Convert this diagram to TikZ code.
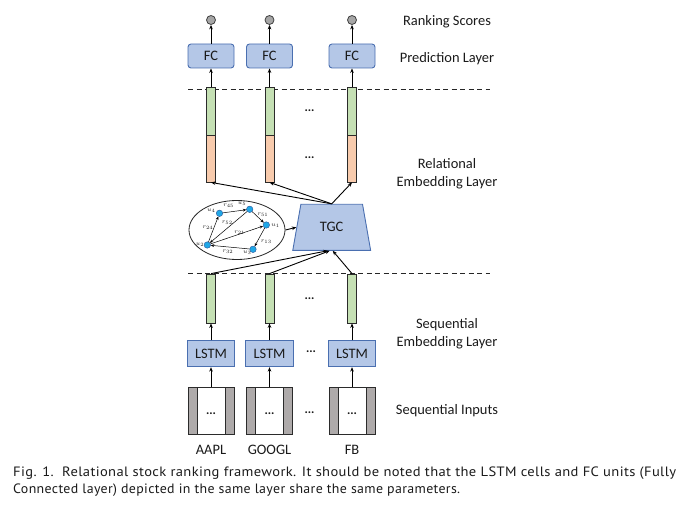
\documentclass[tikz,border=0pt]{standalone}
\usepackage{fontspec}
\usepackage{graphicx}
\setmainfont{Carlito}
\newfontfamily\capfont[LetterSpace=2.5]{PT Sans}
\usetikzlibrary{shapes.geometric,arrows.meta,calc}
\definecolor{fcfill}{HTML}{B4C7E7}
\definecolor{boxedge}{HTML}{4A6FB0}
\definecolor{scorefill}{HTML}{A6A6A6}
\definecolor{scoreedge}{HTML}{404040}
\definecolor{barg}{HTML}{C5E0B4}
\definecolor{baro}{HTML}{F8CBAD}
\definecolor{baredge}{HTML}{2B2B2B}
\definecolor{sidegray}{HTML}{AEAAAA}
\definecolor{gnodefill}{HTML}{1FA7E6}
\definecolor{gnodeedge}{HTML}{2F5597}
\definecolor{txt}{HTML}{1A1A1A}
\begin{document}
\begin{tikzpicture}[x=1bp,y=-1bp, font=\fontsize{14.5}{18.4}\selectfont, text=txt,
 arr/.style={-{Stealth[length=4.5bp,width=3.6bp]}, line width=0.9bp, draw=black},
 garr/.style={-{Stealth[length=3.4bp,width=2.8bp]}, line width=0.5bp, draw=black},
 fcbox/.style={draw=boxedge, fill=fcfill, rounded corners=3bp, minimum width=46bp, minimum height=24bp, inner sep=0, line width=0.9bp},
 lstmbox/.style={draw=boxedge, fill=fcfill, minimum width=47.5bp, minimum height=26bp, inner sep=0, line width=0.9bp},
 score/.style={circle, draw=scoreedge, fill=scorefill, minimum size=9bp, inner sep=0, line width=0.8bp},
 gbar/.style={draw=baredge, fill=barg, minimum width=9bp, inner sep=0, line width=0.8bp},
 obar/.style={draw=baredge, fill=baro, minimum width=9bp, inner sep=0, line width=0.8bp},
 inbox/.style={draw=baredge, fill=white, line width=0.9bp, minimum width=46bp, minimum height=47bp, inner sep=0,
   path picture={
     \fill[sidegray] (path picture bounding box.north west) rectangle ([xshift=9bp]path picture bounding box.south west);
     \fill[sidegray] (path picture bounding box.north east) rectangle ([xshift=-9bp]path picture bounding box.south east);
     \draw[baredge, line width=0.9bp] ([xshift=9bp]path picture bounding box.north west) -- ([xshift=9bp]path picture bounding box.south west);
     \draw[baredge, line width=0.9bp] ([xshift=-9bp]path picture bounding box.north east) -- ([xshift=-9bp]path picture bounding box.south east);
   }},
 gnode/.style={circle, draw=gnodeedge, fill=gnodefill, minimum size=6.5bp, inner sep=0, line width=0.4bp},
 elab/.style={font=\fontsize{6.5}{7}\selectfont, inner sep=0},
 dotsty/.style={font=\fontsize{12.5}{14}\selectfont\bfseries, inner sep=0},
 dashline/.style={dash pattern=on 5bp off 3.5bp, line width=0.9bp, draw=black!85},
 capsty/.style={anchor=base west, inner sep=0, font=\capfont\fontsize{13.6}{15}\selectfont}
]
\path[use as bounding box] (0,0) rectangle (684,507);

% dashed separators
\draw[dashline] (188,89) -- (490,89);
\draw[dashline] (188,273) -- (490,273);

% columns
\foreach \i/\x in {1/211,2/269.5,3/352}{
  \node[score] (sc\i) at (\x,20) {};
  \node[fcbox] (fc\i) at (\x,56) {FC};
  \node[gbar, minimum height=48bp] (tg\i) at (\x,111) {};
  \node[obar, minimum height=47bp] (to\i) at (\x,158.5) {};
  \node[gbar, minimum height=49bp] (bg\i) at (\x,298.5) {};
  \node[lstmbox] (ls\i) at (\x,353.7) {LSTM};
  \node[inbox] (in\i) at (\x,410.5) {};
  \node[dotsty] (din\i) at (\x,414) {...};
  \draw[arr] (fc\i.north) -- (sc\i.south);
  \draw[arr] (tg\i.north) -- (fc\i.south);
  \draw[arr] (ls\i.north) -- (bg\i.south);
  \draw[arr] (in\i.north) -- (ls\i.south);
}

% column labels
\node (n1) at (211,450) {AAPL};
\node (n2) at (269.5,450) {GOOGL};
\node (n3) at (352,450) {FB};

% dots between columns
\node[dotsty] (dd1) at (309.5,111) {...};
\node[dotsty] (dd2) at (309.5,158) {...};
\node[dotsty] (dd3) at (309.5,299) {...};
\node[dotsty] (dd4) at (311,352) {...};
\node[dotsty] (dd5) at (309.5,413) {...};

% TGC
\node[trapezium, trapezium stretches=true, trapezium angle=72, draw=boxedge, fill=fcfill, line width=0.9bp,
      minimum width=78bp, minimum height=46bp, inner sep=0] (tgc) at (331.7,227.3) {TGC};

% graph ellipse
\node[ellipse, draw=black!85, line width=0.8bp, minimum width=96bp, minimum height=59bp, inner sep=0] (gr) at (237,230) {};
\node[gnode] (u4) at (219.5,213.3) {};
\node[gnode] (u5) at (249.7,209.3) {};
\node[gnode] (u1) at (266.3,225) {};
\node[gnode] (u3) at (253,249.3) {};
\node[gnode] (u2) at (207.3,245) {};
\draw[garr] (u4) -- (u5);
\draw[garr] (u5) -- (u1);
\draw[garr] (u5) -- (u2);
\draw[garr] (u2) -- (u1);
\draw[garr] (u1) -- (u3);
\draw[garr] (u3) -- (u2);
\draw[garr] (u2) -- (u4);
\node[elab] (lu4) at (211.3,210.7) {$u_4$};
\node[elab] (lu5) at (242,203.3) {$u_5$};
\node[elab] (lu1) at (275.5,225.5) {$u_1$};
\node[elab] (lu3) at (247.3,253) {$u_3$};
\node[elab] (lu2) at (200,245) {$u_2$};
\node[elab] (r45) at (228.7,206) {$r_{45}$};
\node[elab] (r51) at (263,215) {$r_{51}$};
\node[elab] (r52) at (227.3,223) {$r_{52}$};
\node[elab] (r21) at (239.7,232.5) {$r_{21}$};
\node[elab] (r13) at (266.3,241.7) {$r_{13}$};
\node[elab] (r32) at (228,251.7) {$r_{32}$};
\node[elab] (r24) at (208,227.3) {$r_{24}$};

% connections to/from TGC
\draw[arr] (gr.east) -- (tgc.west);
\foreach \i in {1,2,3}{
  \draw[arr] (tgc.north) -- (to\i.south);
}
\draw[arr] (bg1.north) -- ([xshift=-4bp]tgc.south);
\draw[arr] (bg2.north) -- ([xshift=-2bp]tgc.south);
\draw[arr] (bg3.north) -- ([xshift=1bp]tgc.south);

% layer labels
\node (t1) at (447,21.5) {Ranking Scores};
\node (t2) at (447,58.5) {Prediction Layer};
\node[align=center] (t3) at (447,174) {Relational\\Embedding Layer};
\node[align=center] (t4) at (447,334) {Sequential\\Embedding Layer};
\node (t5) at (447,410.5) {Sequential Inputs};

% caption
\node[capsty] (cap1) at (13,476.7)
  {\resizebox{663bp}{\height}{Fig. 1.\ \ Relational stock ranking framework. It should be noted that the LSTM cells and FC units (Fully}};
\node[capsty] (cap2) at (13,493.5)
  {\resizebox{447bp}{\height}{Connected layer) depicted in the same layer share the same parameters.}};
\end{tikzpicture}
\end{document}
